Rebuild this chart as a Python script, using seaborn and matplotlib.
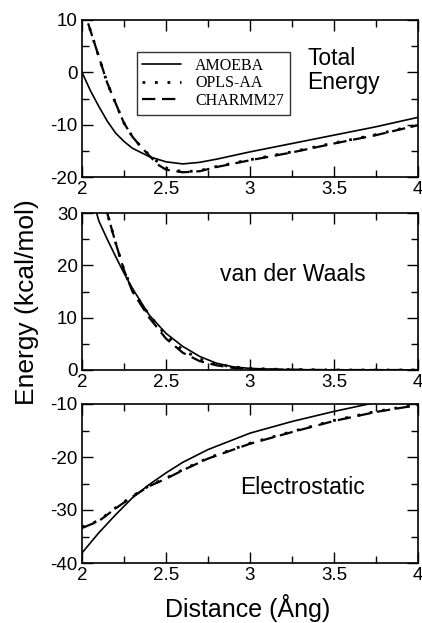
import numpy as np
import pandas as pd
import matplotlib
matplotlib.use("Agg")
import matplotlib.pyplot as plt
import seaborn as sns
from matplotlib.ticker import MultipleLocator

# ---- data ----
tot_x_amoeba = [2.0, 2.05, 2.1, 2.15, 2.2, 2.25, 2.3, 2.4, 2.5, 2.6, 2.7, 2.8, 3.0, 3.25, 3.5, 3.75, 4.0]
tot_amoeba = [0.0, -3.5, -6.5, -9.3, -11.6, -13.2, -14.5, -16.1, -17.1, -17.5, -17.2, -16.6, -15.2, -13.6, -12.0, -10.4, -8.6]
tot_x_ff = [2.0, 2.05, 2.1, 2.15, 2.2, 2.25, 2.3, 2.35, 2.4, 2.45, 2.5, 2.6, 2.7, 2.8, 3.0, 3.25, 3.5, 3.75, 4.0]
tot_opls = [13.0, 8.0, 3.0, -2.0, -5.9, -9.7, -12.3, -14.2, -15.8, -17.1, -18.3, -19.0, -18.8, -18.0, -16.7, -15.2, -13.5, -11.9, -10.0]
tot_charmm = [13.0, 8.0, 3.0, -2.0, -5.9, -9.7, -12.3, -14.2, -15.9, -17.6, -18.6, -19.1, -18.9, -18.1, -16.8, -15.3, -13.6, -12.0, -10.1]

vdw_x = [2.0, 2.1, 2.15, 2.2, 2.25, 2.3, 2.4, 2.5, 2.6, 2.7, 2.8, 2.9, 3.0, 3.2, 3.5, 4.0]
vdw_amoeba = [40.0, 28.5, 25.0, 21.7, 18.5, 15.6, 10.5, 7.0, 4.5, 2.6, 1.3, 0.6, 0.3, 0.1, 0.0, 0.0]
vdw_opls = [50.0, 36.0, 30.0, 24.3, 19.1, 15.3, 10.5, 6.6, 3.8, 2.1, 1.1, 0.6, 0.3, 0.1, 0.0, 0.0]
vdw_charmm = [50.0, 36.0, 30.0, 24.3, 19.1, 15.0, 10.0, 6.0, 3.3, 1.7, 0.9, 0.4, 0.2, 0.05, 0.0, 0.0]

ele_x = [2.0, 2.1, 2.2, 2.3, 2.4, 2.5, 2.6, 2.75, 3.0, 3.25, 3.5, 3.75, 4.0]
ele_amoeba = [-38.1, -34.3, -30.9, -27.7, -25.2, -23.0, -21.0, -18.6, -15.5, -13.3, -11.4, -9.7, -8.5]
ele_opls = [-33.2, -32.0, -29.6, -27.4, -25.4, -24.0, -22.4, -20.2, -17.4, -15.2, -13.1, -11.4, -10.1]
ele_charmm = [-33.4, -32.1, -29.7, -27.5, -25.5, -24.1, -22.5, -20.3, -17.5, -15.3, -13.2, -11.5, -10.2]

series = ["AMOEBA", "OPLS-AA", "CHARMM27"]
panel_labels = ["Total\nEnergy", "van der Waals", "Electrostatic"]
xtick_labels = ["2", "2.5", "3", "3.5", "4"]


def long_df(xa, ya, xf, yo, yc):
    rows = []
    for x, y in zip(xa, ya):
        rows.append((x, y, "AMOEBA"))
    for x, y in zip(xf, yo):
        rows.append((x, y, "OPLS-AA"))
    for x, y in zip(xf, yc):
        rows.append((x, y, "CHARMM27"))
    return pd.DataFrame(rows, columns=["x", "y", "model"])


dfs = [
    long_df(tot_x_amoeba, tot_amoeba, tot_x_ff, tot_opls, tot_charmm),
    long_df(vdw_x, vdw_amoeba, vdw_x, vdw_opls, vdw_charmm),
    long_df(ele_x, ele_amoeba, ele_x, ele_opls, ele_charmm),
]

sns.set_style("ticks")
plt.rcParams["font.family"] = ["Liberation Sans", "DejaVu Sans"]
plt.rcParams["axes.unicode_minus"] = False
plt.rcParams["text.color"] = "black"
plt.rcParams["xtick.color"] = "black"
plt.rcParams["ytick.color"] = "black"
plt.rcParams["xtick.labelcolor"] = "black"
plt.rcParams["ytick.labelcolor"] = "black"

fig = plt.figure(figsize=(4.22, 6.23), dpi=100)
W, H = 422, 623
boxes = [(82, 20, 418, 177), (82, 213, 418, 370), (82, 404, 418, 563)]
ylims = [(-20, 10), (0, 30), (-40, -10)]
styles = {"AMOEBA": (None, 1.2), "OPLS-AA": ((0, (1, 3.5)), 2.0), "CHARMM27": ((0, (6, 3)), 1.6)}
text_pos = [(3.34, 0.3), (2.82, 18.2), (2.94, -25.7)]

axes = []
for i, (l, t, r, b) in enumerate(boxes):
    ax = fig.add_axes([l / W, 1 - b / H, (r - l) / W, (b - t) / H])
    axes.append(ax)
    df = dfs[i]
    for name in ["CHARMM27", "OPLS-AA", "AMOEBA"]:
        ls, lw = styles[name]
        sub = df[df.model == name]
        sns.lineplot(data=sub, x="x", y="y", ax=ax, color="black",
                     linewidth=lw, label=name, legend=False, sort=False,
                     linestyle="-" if ls is None else ls)
    ax.set_xlim(2, 4)
    ax.set_ylim(*ylims[i])
    ax.xaxis.set_major_locator(MultipleLocator(0.5))
    ax.xaxis.set_minor_locator(MultipleLocator(0.25))
    ax.yaxis.set_major_locator(MultipleLocator(10))
    ax.yaxis.set_minor_locator(MultipleLocator(5))
    ax.tick_params(which="both", direction="in", top=True, right=True,
                   labelsize=13.5, color="black", labelcolor="black", width=1)
    ax.tick_params(which="major", length=8, pad=3)
    ax.tick_params(which="minor", length=5)
    ax.set_xticks([2, 2.5, 3, 3.5, 4])
    ax.set_xticklabels(xtick_labels)
    for s in ax.spines.values():
        s.set_linewidth(1.2)
        s.set_color("black")
    ax.set_xlabel("")
    ax.set_ylabel("")
    ax.text(text_pos[i][0], text_pos[i][1], panel_labels[i], fontsize=16.5,
            ha="left", va="center", linespacing=1.05, color="black")

# legend in top panel
handles, labels = axes[0].get_legend_handles_labels()
order = [labels.index(n) for n in series]
leg = axes[0].legend([handles[k] for k in order], series, loc="upper left",
                     bbox_to_anchor=(0.163, 0.795), frameon=True, fancybox=False,
                     edgecolor="black", handlelength=2.4, borderpad=0.35,
                     handletextpad=0.9, borderaxespad=0,
                     labelspacing=0.1, prop={"family": "Liberation Serif", "size": 11.5})
leg.get_frame().set_linewidth(1.0)
for t in leg.get_texts():
    t.set_color("black")

fig.text(27 / W, 1 - 302 / H, "Energy (kcal/mol)", rotation=90, fontsize=19,
         ha="center", va="center", color="black")
fig.text(248 / W, 1 - 608 / H, "Distance (Ång)", fontsize=18, ha="center", va="center",
         color="black")

fig.savefig("out.png", dpi=100)
